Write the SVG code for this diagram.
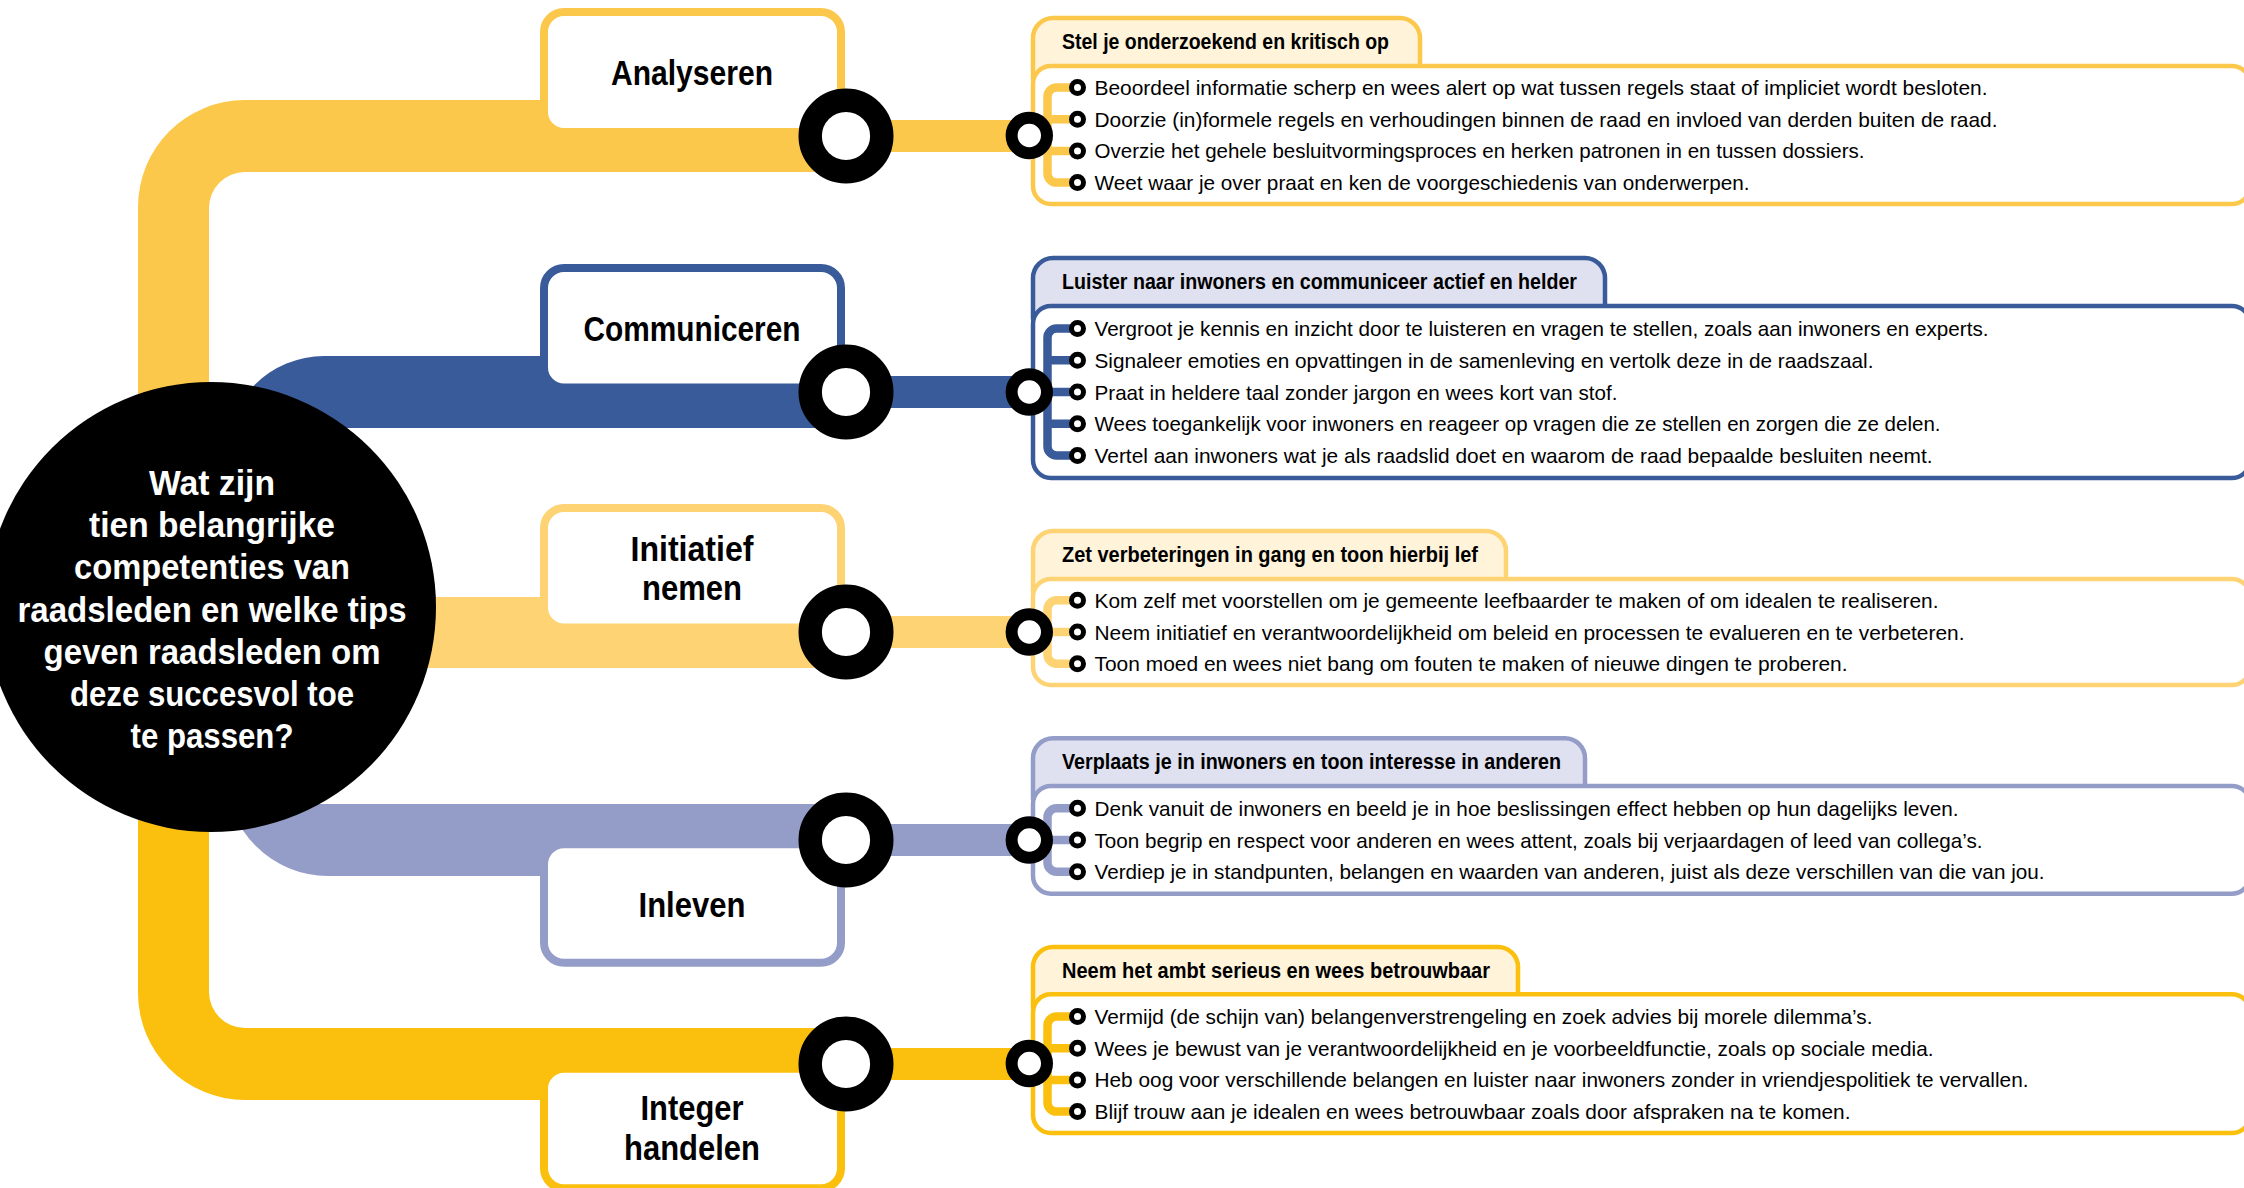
<svg xmlns="http://www.w3.org/2000/svg" width="2244" height="1188" viewBox="0 0 2244 1188">
<style>
text{font-family:"Liberation Sans Narrow","Liberation Sans",Arial,sans-serif}
.lbl{font-weight:bold;font-size:35px;text-anchor:middle;fill:#000}
.ttl{font-weight:bold;font-size:35px;text-anchor:middle;fill:#fff}
.hdr{font-weight:bold;font-size:22px;fill:#000}
.itm{font-size:21px;fill:#000}
.ring{fill:#fff;stroke:#000;stroke-width:23.4}
.sring{fill:#fff;stroke:#000;stroke-width:12}
.bul{fill:#fff;stroke:#000;stroke-width:5}
.box{fill:#fff;stroke-width:8}
.body{fill:#fff;stroke-width:4.5}
.tab{stroke-width:4.5}
.br{fill:none;stroke-width:8.5}
.y1{stroke:#FCC84B}.y3{stroke:#FDD373}.y5{stroke:#FBBF0E}.b2{stroke:#3A5B9A}.l4{stroke:#949DC8}
.fy1{fill:#FCC84B}.fy3{fill:#FDD373}.fy5{fill:#FBBF0E}.fb2{fill:#3A5B9A}.fl4{fill:#949DC8}
.cream{fill:#FFF3DA}.lav{fill:#DFE1F0}
</style>
<g id="connectors">
<path class="fy1" d="M138 600 V207 A107 107 0 0 1 245 100 H846 V172 H245 A36 36 0 0 0 209 208 V600 Z"/>
<path class="fy5" d="M138 600 V993 A107 107 0 0 0 245 1100 H846 V1028 H245 A36 36 0 0 1 209 992 V600 Z"/>
<path class="fb2" d="M226 600 V454 A98 98 0 0 1 324 356 H846 V428 H300 V600 Z"/>
<path class="fl4" d="M226 600 V774 A102 102 0 0 0 328 876 H846 V804 H300 V600 Z"/>
<rect class="fy3" x="300" y="597" width="546" height="71"/>
<rect class="fy1" x="846" y="120" width="183" height="32"/>
<rect class="fb2" x="846" y="376" width="183" height="32"/>
<rect class="fy3" x="846" y="616" width="183" height="32"/>
<rect class="fl4" x="846" y="824" width="183" height="32"/>
<rect class="fy5" x="846" y="1048" width="183" height="32"/>
</g>
<g id="center">
<circle cx="211" cy="607" r="225" fill="#000"/>
<text class="ttl" x="212" y="495" textLength="126" lengthAdjust="spacingAndGlyphs">Wat zijn</text>
<text class="ttl" x="212" y="537.2" textLength="246" lengthAdjust="spacingAndGlyphs">tien belangrijke</text>
<text class="ttl" x="212" y="579.4" textLength="276" lengthAdjust="spacingAndGlyphs">competenties van</text>
<text class="ttl" x="212" y="621.6" textLength="389" lengthAdjust="spacingAndGlyphs">raadsleden en welke tips</text>
<text class="ttl" x="212" y="663.8" textLength="337" lengthAdjust="spacingAndGlyphs">geven raadsleden om</text>
<text class="ttl" x="212" y="706" textLength="284" lengthAdjust="spacingAndGlyphs">deze succesvol toe</text>
<text class="ttl" x="212" y="748.2" textLength="163" lengthAdjust="spacingAndGlyphs">te passen?</text>
</g>
<g id="node-analyseren">
<rect class="box y1" x="544" y="12" width="297" height="120" rx="20"/>
<text class="lbl" x="692" y="85" textLength="162" lengthAdjust="spacingAndGlyphs">Analyseren</text>
<circle class="ring" cx="846" cy="136" r="35.8"/>
</g>
<g id="node-communiceren">
<rect class="box b2" x="544" y="268" width="297" height="119.5" rx="20"/>
<text class="lbl" x="692" y="340.7" textLength="217" lengthAdjust="spacingAndGlyphs">Communiceren</text>
<circle class="ring" cx="846" cy="392" r="35.8"/>
</g>
<g id="node-initiatief">
<rect class="box y3" x="544" y="508" width="297" height="119.5" rx="20"/>
<text class="lbl" x="692" y="561" textLength="123" lengthAdjust="spacingAndGlyphs">Initiatief</text>
<text class="lbl" x="692" y="600" textLength="100" lengthAdjust="spacingAndGlyphs">nemen</text>
<circle class="ring" cx="846" cy="632" r="35.8"/>
</g>
<g id="node-inleven">
<rect class="box l4" x="544" y="844.3" width="297" height="118.5" rx="20"/>
<text class="lbl" x="692" y="916.7" textLength="107" lengthAdjust="spacingAndGlyphs">Inleven</text>
<circle class="ring" cx="846" cy="840" r="35.8"/>
</g>
<g id="node-integer">
<rect class="box y5" x="544" y="1068.7" width="297" height="119.5" rx="20"/>
<text class="lbl" x="692" y="1120" textLength="103" lengthAdjust="spacingAndGlyphs">Integer</text>
<text class="lbl" x="692" y="1160" textLength="136" lengthAdjust="spacingAndGlyphs">handelen</text>
<circle class="ring" cx="846" cy="1064" r="35.8"/>
</g>
<g id="panel-analyseren">
<rect class="tab cream y1" x="1033" y="18" width="387" height="80" rx="20"/>
<rect class="body y1" x="1033" y="66" width="1217" height="138" rx="18"/>
<text class="hdr" x="1062" y="49.3" textLength="327" lengthAdjust="spacingAndGlyphs">Stel je onderzoekend en kritisch op</text>
<path class="br y1" d="M1077.5 87.5 H1056.5 A9 9 0 0 0 1047.5 96.5 V173.6 A9 9 0 0 0 1056.5 182.6 H1077.5 M1047.5 119.2 H1077.5 M1047.5 150.9 H1077.5 M1029 135.5 H1047.5"/>
<circle class="sring" cx="1029.3" cy="135.5" r="17.7"/>
<circle class="bul" cx="1077.5" cy="87.5" r="6"/>
<circle class="bul" cx="1077.5" cy="119.2" r="6"/>
<circle class="bul" cx="1077.5" cy="150.9" r="6"/>
<circle class="bul" cx="1077.5" cy="182.6" r="6"/>
<text class="itm" x="1094.5" y="95" textLength="893" lengthAdjust="spacingAndGlyphs">Beoordeel informatie scherp en wees alert op wat tussen regels staat of impliciet wordt besloten.</text>
<text class="itm" x="1094.5" y="126.7" textLength="903" lengthAdjust="spacingAndGlyphs">Doorzie (in)formele regels en verhoudingen binnen de raad en invloed van derden buiten de raad.</text>
<text class="itm" x="1094.5" y="158.4" textLength="770" lengthAdjust="spacingAndGlyphs">Overzie het gehele besluitvormingsproces en herken patronen in en tussen dossiers.</text>
<text class="itm" x="1094.5" y="190.1" textLength="655" lengthAdjust="spacingAndGlyphs">Weet waar je over praat en ken de voorgeschiedenis van onderwerpen.</text>
</g>
<g id="panel-communiceren">
<rect class="tab lav b2" x="1033" y="258" width="572" height="80" rx="20"/>
<rect class="body b2" x="1033" y="306" width="1217" height="172" rx="18"/>
<text class="hdr" x="1062" y="289.3" textLength="515" lengthAdjust="spacingAndGlyphs">Luister naar inwoners en communiceer actief en helder</text>
<path class="br b2" d="M1077.5 328.6 H1056.5 A9 9 0 0 0 1047.5 337.6 V446.4 A9 9 0 0 0 1056.5 455.4 H1077.5 M1047.5 360.3 H1077.5 M1029 392 H1077.5 M1047.5 423.7 H1077.5"/>
<circle class="sring" cx="1029.3" cy="392" r="17.7"/>
<circle class="bul" cx="1077.5" cy="328.6" r="6"/>
<circle class="bul" cx="1077.5" cy="360.3" r="6"/>
<circle class="bul" cx="1077.5" cy="392" r="6"/>
<circle class="bul" cx="1077.5" cy="423.7" r="6"/>
<circle class="bul" cx="1077.5" cy="455.4" r="6"/>
<text class="itm" x="1094.5" y="336.1" textLength="894" lengthAdjust="spacingAndGlyphs">Vergroot je kennis en inzicht door te luisteren en vragen te stellen, zoals aan inwoners en experts.</text>
<text class="itm" x="1094.5" y="367.8" textLength="779" lengthAdjust="spacingAndGlyphs">Signaleer emoties en opvattingen in de samenleving en vertolk deze in de raadszaal.</text>
<text class="itm" x="1094.5" y="399.5" textLength="523" lengthAdjust="spacingAndGlyphs">Praat in heldere taal zonder jargon en wees kort van stof.</text>
<text class="itm" x="1094.5" y="431.2" textLength="846" lengthAdjust="spacingAndGlyphs">Wees toegankelijk voor inwoners en reageer op vragen die ze stellen en zorgen die ze delen.</text>
<text class="itm" x="1094.5" y="462.9" textLength="838" lengthAdjust="spacingAndGlyphs">Vertel aan inwoners wat je als raadslid doet en waarom de raad bepaalde besluiten neemt.</text>
</g>
<g id="panel-initiatief">
<rect class="tab cream y3" x="1033" y="531" width="473" height="80" rx="20"/>
<rect class="body y3" x="1033" y="579" width="1217" height="106" rx="18"/>
<text class="hdr" x="1062" y="561.7" textLength="416" lengthAdjust="spacingAndGlyphs">Zet verbeteringen in gang en toon hierbij lef</text>
<path class="br y3" d="M1077.5 600.3 H1056.5 A9 9 0 0 0 1047.5 609.3 V654.7 A9 9 0 0 0 1056.5 663.7 H1077.5 M1029 632 H1077.5"/>
<circle class="sring" cx="1029.3" cy="632" r="17.7"/>
<circle class="bul" cx="1077.5" cy="600.3" r="6"/>
<circle class="bul" cx="1077.5" cy="632" r="6"/>
<circle class="bul" cx="1077.5" cy="663.7" r="6"/>
<text class="itm" x="1094.5" y="607.8" textLength="844" lengthAdjust="spacingAndGlyphs">Kom zelf met voorstellen om je gemeente leefbaarder te maken of om idealen te realiseren.</text>
<text class="itm" x="1094.5" y="639.5" textLength="870" lengthAdjust="spacingAndGlyphs">Neem initiatief en verantwoordelijkheid om beleid en processen te evalueren en te verbeteren.</text>
<text class="itm" x="1094.5" y="671.2" textLength="753" lengthAdjust="spacingAndGlyphs">Toon moed en wees niet bang om fouten te maken of nieuwe dingen te proberen.</text>
</g>
<g id="panel-inleven">
<rect class="tab lav l4" x="1033" y="738.3" width="552" height="80" rx="20"/>
<rect class="body l4" x="1033" y="786" width="1217" height="107.7" rx="18"/>
<text class="hdr" x="1062" y="769.3" textLength="499" lengthAdjust="spacingAndGlyphs">Verplaats je in inwoners en toon interesse in anderen</text>
<path class="br l4" d="M1077.5 808.3 H1056.5 A9 9 0 0 0 1047.5 817.3 V862.7 A9 9 0 0 0 1056.5 871.7 H1077.5 M1029 840 H1077.5"/>
<circle class="sring" cx="1029.3" cy="840" r="17.7"/>
<circle class="bul" cx="1077.5" cy="808.3" r="6"/>
<circle class="bul" cx="1077.5" cy="840" r="6"/>
<circle class="bul" cx="1077.5" cy="871.7" r="6"/>
<text class="itm" x="1094.5" y="815.8" textLength="864" lengthAdjust="spacingAndGlyphs">Denk vanuit de inwoners en beeld je in hoe beslissingen effect hebben op hun dagelijks leven.</text>
<text class="itm" x="1094.5" y="847.5" textLength="888" lengthAdjust="spacingAndGlyphs">Toon begrip en respect voor anderen en wees attent, zoals bij verjaardagen of leed van collega’s.</text>
<text class="itm" x="1094.5" y="879.2" textLength="950" lengthAdjust="spacingAndGlyphs">Verdiep je in standpunten, belangen en waarden van anderen, juist als deze verschillen van die van jou.</text>
</g>
<g id="panel-integer">
<rect class="tab cream y5" x="1033" y="947" width="485" height="80" rx="20"/>
<rect class="body y5" x="1033" y="994.3" width="1217" height="138.7" rx="18"/>
<text class="hdr" x="1062" y="978.3" textLength="428" lengthAdjust="spacingAndGlyphs">Neem het ambt serieus en wees betrouwbaar</text>
<path class="br y5" d="M1077.5 1016.5 H1056.5 A9 9 0 0 0 1047.5 1025.5 V1102.6 A9 9 0 0 0 1056.5 1111.6 H1077.5 M1047.5 1048.2 H1077.5 M1047.5 1079.9 H1077.5 M1029 1063.5 H1047.5"/>
<circle class="sring" cx="1029.3" cy="1063.5" r="17.7"/>
<circle class="bul" cx="1077.5" cy="1016.5" r="6"/>
<circle class="bul" cx="1077.5" cy="1048.2" r="6"/>
<circle class="bul" cx="1077.5" cy="1079.9" r="6"/>
<circle class="bul" cx="1077.5" cy="1111.6" r="6"/>
<text class="itm" x="1094.5" y="1024" textLength="778" lengthAdjust="spacingAndGlyphs">Vermijd (de schijn van) belangenverstrengeling en zoek advies bij morele dilemma’s.</text>
<text class="itm" x="1094.5" y="1055.7" textLength="839" lengthAdjust="spacingAndGlyphs">Wees je bewust van je verantwoordelijkheid en je voorbeeldfunctie, zoals op sociale media.</text>
<text class="itm" x="1094.5" y="1087.4" textLength="934" lengthAdjust="spacingAndGlyphs">Heb oog voor verschillende belangen en luister naar inwoners zonder in vriendjespolitiek te vervallen.</text>
<text class="itm" x="1094.5" y="1119.1" textLength="756" lengthAdjust="spacingAndGlyphs">Blijf trouw aan je idealen en wees betrouwbaar zoals door afspraken na te komen.</text>
</g>
</svg>
